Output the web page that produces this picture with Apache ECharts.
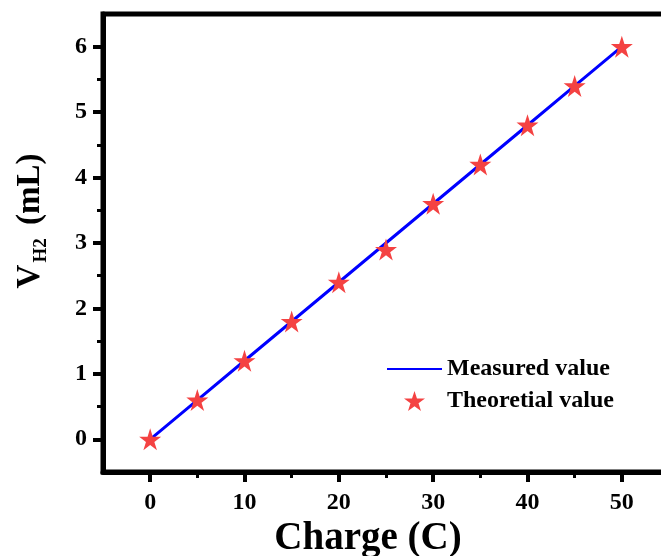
<!DOCTYPE html>
<html>
<head>
<meta charset="utf-8">
<script src="https://cdn.jsdelivr.net/npm/echarts@6/dist/echarts.min.js"></script>
<style>
  html, body { margin: 0; padding: 0; background: #fff; }
  #chart { width: 661px; height: 556px; }
</style>
</head>
<body>
<div id="chart"></div>
<script>
// Hydrogen volume collected vs. charge passed
const charge = [0, 5, 10, 15, 20, 25, 30, 35, 40, 45, 50];
const measured = [0, 0.6, 1.2, 1.8, 2.4, 3.0, 3.6, 4.2, 4.8, 5.4, 6.0];
const theoretical = [0, 0.6, 1.2, 1.8, 2.4, 2.9, 3.6, 4.2, 4.8, 5.4, 6.0];

const xMajorTicks = [0, 10, 20, 30, 40, 50];
const xMinorTicks = [5, 15, 25, 35, 45];
const yMajorTicks = [0, 1, 2, 3, 4, 5, 6];
const yMinorTicks = [0.5, 1.5, 2.5, 3.5, 4.5, 5.5];

const FONT = '"Liberation Serif", "Times New Roman", serif';

const chart = echarts.init(document.getElementById('chart'), null, { renderer: 'canvas' });

const pairs = (xs, ys) => xs.map((x, i) => [x, ys[i]]);

const frameLine = { show: true, onZero: false, lineStyle: { color: '#000', width: 5 } };
const hiddenLine = { show: false, onZero: false };

chart.setOption({
  animation: false,
  backgroundColor: '#fff',
  grid: {
    left: 103, right: -8, top: 14, bottom: 84,
    outerBoundsMode: 'none',
    containLabel: false,
    show: true, borderColor: '#000', borderWidth: 5, backgroundColor: 'transparent'
  },
  legend: {
    orient: 'vertical',
    left: 381, top: 352,
    itemWidth: 55, itemHeight: 20, itemGap: 8,
    textStyle: { fontFamily: FONT, fontWeight: 'bold', fontSize: 24, color: '#000' },
    data: [
      { name: 'Measured value', itemStyle: { opacity: 0 } },
      { name: 'Theoretial value' }
    ]
  },
  xAxis: [
    {
      type: 'value', min: -5, max: 55,
      splitLine: { show: false },
      axisLine: frameLine,
      name: 'Charge (C)',
      nameLocation: 'middle', nameGap: 42,
      nameTextStyle: { fontFamily: FONT, fontWeight: 'bold', fontSize: 39, color: '#000',
                       padding: [0, 36, 0, 0] },
      axisTick: { show: true, inside: false, length: 10, customValues: xMajorTicks,
                  lineStyle: { color: '#000', width: 4 } },
      axisLabel: { show: true, customValues: xMajorTicks, margin: 19,
                   fontFamily: FONT, fontWeight: 'bold', fontSize: 24, color: '#000' }
    },
    {
      type: 'value', min: -5, max: 55, position: 'bottom',
      splitLine: { show: false },
      axisLine: hiddenLine,
      axisTick: { show: true, inside: false, length: 6, customValues: xMinorTicks,
                  lineStyle: { color: '#000', width: 3 } },
      axisLabel: { show: false }
    }
  ],
  yAxis: [
    {
      type: 'value', min: -0.5, max: 6.5,
      splitLine: { show: false },
      axisLine: frameLine,
      name: '{v|V}{sub|H2}{v| (mL)}',
      nameLocation: 'middle', nameGap: 52, nameRotate: 90,
      nameTextStyle: {
        fontFamily: FONT, fontWeight: 'bold', color: '#000',
        padding: [0, 0, 0, 44],
        rich: {
          v: { fontFamily: FONT, fontWeight: 'bold', fontSize: 33, color: '#000' },
          sub: { fontFamily: FONT, fontWeight: 'bold', fontSize: 19, color: '#000',
                 verticalAlign: 'bottom', padding: [22, 5, 0, 2] }
        }
      },
      axisTick: { show: true, inside: false, length: 10, customValues: yMajorTicks,
                  lineStyle: { color: '#000', width: 4 } },
      axisLabel: { show: true, customValues: yMajorTicks, margin: 16,
                   fontFamily: FONT, fontWeight: 'bold', fontSize: 24, color: '#000' }
    },
    {
      type: 'value', min: -0.5, max: 6.5, position: 'left', offset: 0,
      splitLine: { show: false },
      axisLine: hiddenLine,
      axisTick: { show: true, inside: false, length: 6, customValues: yMinorTicks,
                  lineStyle: { color: '#000', width: 3 } },
      axisLabel: { show: false }
    }
  ],
  series: [
    {
      name: 'Measured value',
      type: 'line',
      xAxisIndex: 0, yAxisIndex: 0,
      data: pairs(charge, measured),
      symbol: 'none',
      lineStyle: { color: '#0000ff', width: 3 },
      itemStyle: { color: '#0000ff' },
      z: 2
    },
    {
      name: 'Theoretial value',
      type: 'scatter',
      xAxisIndex: 0, yAxisIndex: 0,
      data: pairs(charge, theoretical),
      symbol: 'path://M50,0 L61.8,36.2 L100,36.2 L69.1,58.8 L80.9,95.1 L50,72.7 L19.1,95.1 L30.9,58.8 L0,36.2 L38.2,36.2 Z',
      symbolSize: 22,
      itemStyle: { color: '#f44242', opacity: 1 },
      z: 3
    }
  ]
});
</script>
</body>
</html>
